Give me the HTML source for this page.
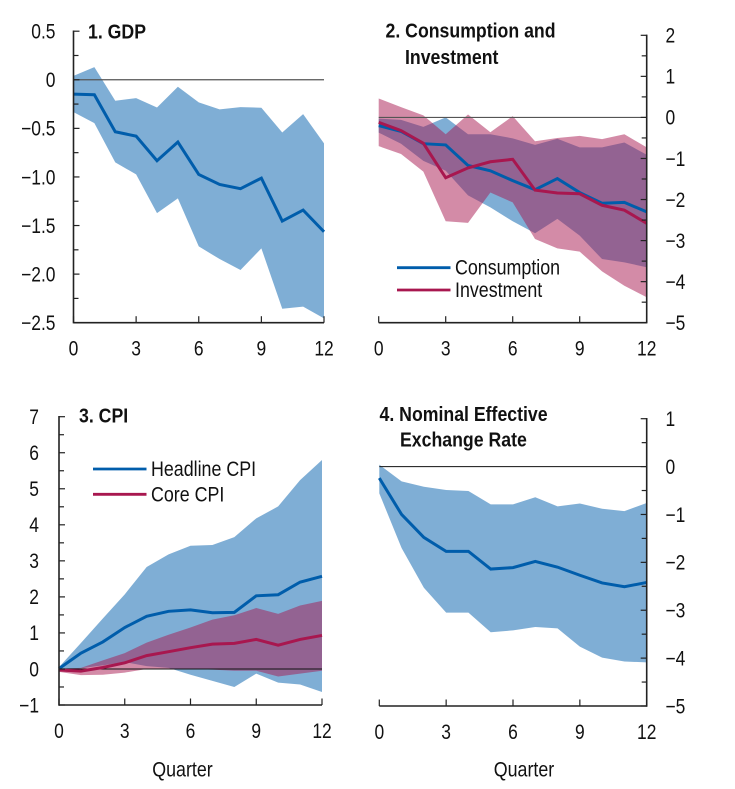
<!DOCTYPE html>
<html lang="en">
<head>
<meta charset="utf-8">
<title>Impulse responses</title>
<style>
html,body{margin:0;padding:0;background:#fff;width:735px;height:789px;overflow:hidden}
svg{display:block}
text{font-family:"Liberation Sans",Arial,sans-serif;fill:#111}
</style>
</head>
<body>
<svg id="chart" xmlns="http://www.w3.org/2000/svg" width="735" height="789" viewBox="0 0 735 789"></svg>
<script>
const quarters = [0,1,2,3,4,5,6,7,8,9,10,11,12];
const xTickLabels = [0,3,6,9,12];

const gdpMid = [-0.147,-0.154,-0.535,-0.58,-0.833,-0.641,-0.974,-1.077,-1.121,-1.012,-1.454,-1.341,-1.564];
const gdpUpper = [0.04,0.13,-0.216,-0.189,-0.285,-0.072,-0.233,-0.305,-0.281,-0.288,-0.542,-0.353,-0.655];
const gdpLower = [-0.333,-0.446,-0.85,-0.974,-1.372,-1.221,-1.715,-1.845,-1.958,-1.735,-2.356,-2.335,-2.455];
const gdpTicks = [0.5,0,-0.5,-1,-1.5,-2,-2.5];
const gdpTickLabels = ["0.5","0","\u22120.5","\u22121.0","\u22121.5","\u22122.0","\u22122.5"];

const consMid = [-0.2,-0.34,-0.64,-0.67,-1.17,-1.3,-1.54,-1.76,-1.49,-1.83,-2.09,-2.07,-2.3];
const consUpper = [-0.03,-0.06,-0.23,0,-0.41,-0.41,-0.51,-0.67,-0.52,-0.73,-0.73,-0.61,-0.91];
const consLower = [-0.37,-0.64,-1.06,-1.3,-1.9,-2.19,-2.53,-2.82,-2.47,-2.88,-3.45,-3.53,-3.65];
const invMid = [-0.12,-0.32,-0.63,-1.47,-1.23,-1.08,-1.02,-1.77,-1.84,-1.86,-2.14,-2.26,-2.58];
const invUpper = [0.46,0.25,0.05,-0.41,0.07,-0.36,0.03,-0.58,-0.5,-0.45,-0.53,-0.41,-0.73];
const invLower = [-0.7,-0.89,-1.32,-2.53,-2.57,-1.83,-2.07,-2.96,-3.19,-3.27,-3.75,-4.1,-4.38];
const consInvTicks = [2,1,0,-1,-2,-3,-4,-5];
const consInvTickLabels = ["2","1","0","\u22121","\u22122","\u22123","\u22124","\u22125"];

const headMid = [0.01,0.44,0.75,1.15,1.46,1.6,1.64,1.56,1.57,2.03,2.06,2.41,2.57];
const headUpper = [0.05,0.72,1.4,2.07,2.83,3.18,3.42,3.44,3.66,4.18,4.51,5.24,5.8];
const headLower = [-0.05,0.02,0.1,0.19,0.08,0.03,-0.16,-0.33,-0.5,-0.13,-0.38,-0.43,-0.64];
const coreMid = [-0.03,-0.06,0.04,0.17,0.37,0.48,0.59,0.69,0.71,0.82,0.66,0.82,0.93];
const coreUpper = [0.01,0.03,0.24,0.44,0.73,0.95,1.15,1.37,1.49,1.69,1.53,1.76,1.89];
const coreLower = [-0.08,-0.17,-0.16,-0.1,0,0.01,0,-0.02,-0.05,-0.05,-0.21,-0.13,-0.05];
const cpiTicks = [7,6,5,4,3,2,1,0,-1];
const cpiTickLabels = ["7","6","5","4","3","2","1","0","\u22121"];

const neerMid = [-0.24,-1.0,-1.48,-1.77,-1.77,-2.14,-2.11,-1.98,-2.1,-2.27,-2.43,-2.51,-2.42];
const neerUpper = [0.04,-0.31,-0.42,-0.49,-0.51,-0.79,-0.79,-0.64,-0.83,-0.77,-0.88,-0.93,-0.76];
const neerLower = [-0.56,-1.7,-2.53,-3.05,-3.05,-3.46,-3.42,-3.35,-3.38,-3.76,-3.99,-4.07,-4.09];
const neerTicks = [1,0,-1,-2,-3,-4,-5];
const neerTickLabels = ["1","0","\u22121","\u22122","\u22123","\u22124","\u22125"];

const BLUE = "#005dab";
const RED = "#a8174f";
const svg = document.getElementById("chart");
const NS = "http://www.w3.org/2000/svg";

function make(tag, attrs, parent) {
  const el = document.createElementNS(NS, tag);
  for (const k in attrs) el.setAttribute(k, attrs[k]);
  parent.appendChild(el);
  return el;
}

function label(parent, str, x, y, size, anchor, weight, squeeze) {
  const t = make("text", {transform: "translate(" + x + " " + y + ") scale(" + squeeze + " 1)", "font-size": size, "text-anchor": anchor, "font-weight": weight}, parent);
  t.textContent = str;
  return t;
}

function band(parent, upper, lower, color, sx, sy) {
  const top = upper.map((v, i) => sx(quarters[i]) + "," + sy(v));
  const bottom = lower.map((v, i) => sx(quarters[i]) + "," + sy(v)).reverse();
  return make("polygon", {points: top.concat(bottom).join(" "), fill: color, "fill-opacity": 0.5}, parent);
}

function line(parent, values, color, sx, sy) {
  const pts = values.map((v, i) => sx(quarters[i]) + "," + sy(v)).join(" ");
  return make("polyline", {points: pts, fill: "none", stroke: color, "stroke-width": 3, "stroke-linejoin": "miter"}, parent);
}

function panel(name, opt) {
  const g = make("g", {}, svg);
  
  

  const sx = q => opt.x0 + (q - 0) * (opt.x1 - opt.x0) / 12;
  const sy = v => opt.yTop + (opt.vTop - v) * (opt.yBot - opt.yTop) / (opt.vTop - opt.vBot);

  opt.series.forEach(s => {
    const b = band(g, s.upper, s.lower, s.color, sx, sy);
    
    
  });

  const zero = make("line", {x1: sx(0), x2: sx(12), y1: sy(0), y2: sy(0), stroke: opt.zeroColor, "stroke-width": opt.zeroWidth}, g);
  
  

  opt.series.forEach(s => {
    const l = line(g, s.mid, s.color, sx, sy);
    
    
  });

  const axisX = opt.right ? opt.x1 : opt.x0;
  const dir = opt.right ? -1 : 1;
  const yAxis = make("line", {x1: axisX, x2: axisX, y1: opt.yTop - 0.7, y2: opt.yBot + 0.7, stroke: "#222", "stroke-width": 1.6}, g);
  
  
  const xAxis = make("line", {x1: opt.x0, x2: opt.x1, y1: opt.yBot, y2: opt.yBot, stroke: "#222", "stroke-width": 1.6}, g);
  
  

  opt.ticks.forEach((v, i) => {
    const t = make("line", {x1: axisX, x2: axisX + dir * 6, y1: sy(v), y2: sy(v), stroke: "#222", "stroke-width": 1.2}, g);
    
    
    if (i < opt.ticks.length - 1) {
      const mv = (v + opt.ticks[i + 1]) / 2;
      const m = make("line", {x1: axisX, x2: axisX + dir * 5, y1: sy(mv), y2: sy(mv), stroke: "#222", "stroke-width": 1.2}, g);
      
      
    }
    const lx = opt.right ? 665.5 : opt.x0 + opt.labelX;
    const tl = label(g, opt.tickLabels[i], lx, sy(v) + 7.3, 21, opt.right ? "start" : "end", "normal", 0.83);
    
    
  });

  xTickLabels.forEach(q => {
    const t = make("line", {x1: sx(q), x2: sx(q), y1: opt.yBot, y2: opt.yBot - 6.5, stroke: "#222", "stroke-width": 1.2}, g);
    
    
    const tl = label(g, String(q), sx(q), opt.yBot + 33, 21, "middle", "normal", 0.83);
    
    
  });

  opt.title.forEach(row => {
    const tt = label(g, row[0], row[1], row[2], 20, "start", "bold", 0.885);
    
    
  });

  (opt.legend || []).forEach(row => {
    const ll = make("line", {x1: row.x1, x2: row.x2, y1: row.y, y2: row.y, stroke: row.color, "stroke-width": 2.8}, g);
    
    
    const lt = label(g, row.text, row.tx, row.y + 7, 21, "start", "normal", 0.85);
    
    
  });

  if (opt.xTitle) {
    const xt = label(g, "Quarter", opt.xTitle, 776.5, 21, "middle", "normal", 0.85);
    
    
  }
}

panel("gdp-panel", {
  x0: 73.5, x1: 324, yTop: 31.2, yBot: 322.7, vTop: 0.5, vBot: -2.5,
  zeroColor: "#555", zeroWidth: 1.2,
  ticks: gdpTicks, tickLabels: gdpTickLabels, labelX: -18,
  series: [{id: "gdp", mid: gdpMid, upper: gdpUpper, lower: gdpLower, color: BLUE}],
  title: [["1. GDP", 88, 38.5]]
});

panel("consumption-investment-panel", {
  x0: 378.7, x1: 646.7, yTop: 35.3, yBot: 322.7, vTop: 2, vBot: -5, right: true,
  zeroColor: "#555", zeroWidth: 1.2,
  ticks: consInvTicks, tickLabels: consInvTickLabels, labelX: 22,
  series: [
    {id: "consumption", mid: consMid, upper: consUpper, lower: consLower, color: BLUE},
    {id: "investment", mid: invMid, upper: invUpper, lower: invLower, color: RED}
  ],
  title: [["2. Consumption and", 385.5, 37.5], ["Investment", 405, 64]],
  legend: [
    {x1: 397, x2: 450.5, y: 267.7, color: BLUE, text: "Consumption", tx: 455},
    {x1: 397, x2: 450.5, y: 290, color: RED, text: "Investment", tx: 455}
  ]
});

panel("cpi-panel", {
  x0: 59, x1: 322, yTop: 416.7, yBot: 705, vTop: 7, vBot: -1,
  zeroColor: "#111", zeroWidth: 1,
  ticks: cpiTicks, tickLabels: cpiTickLabels, labelX: -20,
  series: [
    {id: "headline-cpi", mid: headMid, upper: headUpper, lower: headLower, color: BLUE},
    {id: "core-cpi", mid: coreMid, upper: coreUpper, lower: coreLower, color: RED}
  ],
  title: [["3. CPI", 79, 422.3]],
  legend: [
    {x1: 93, x2: 146.5, y: 469, color: BLUE, text: "Headline CPI", tx: 151},
    {x1: 93, x2: 146.5, y: 494.3, color: RED, text: "Core CPI", tx: 151}
  ],
  xTitle: 182.5
});

panel("nominal-effective-exchange-rate-panel", {
  x0: 379.3, x1: 646.7, yTop: 418.7, yBot: 706, vTop: 1, vBot: -5, right: true,
  zeroColor: "#111", zeroWidth: 1,
  ticks: neerTicks, tickLabels: neerTickLabels, labelX: 22,
  series: [{id: "neer", mid: neerMid, upper: neerUpper, lower: neerLower, color: BLUE}],
  title: [["4. Nominal Effective", 379.5, 421], ["Exchange Rate", 400, 446.7]],
  xTitle: 524
});
</script>
</body>
</html>
